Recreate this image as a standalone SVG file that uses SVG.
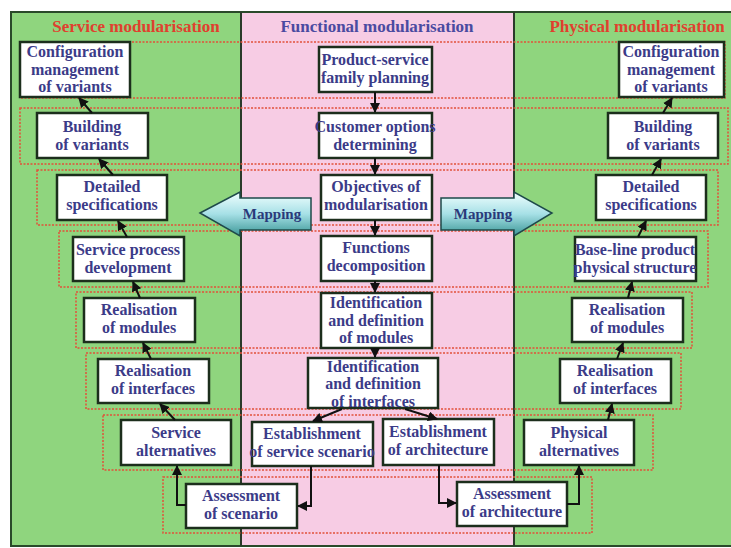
<svg xmlns="http://www.w3.org/2000/svg" width="731" height="548" viewBox="0 0 731 548">
<defs>
<linearGradient id="mapg" x1="0" y1="0" x2="0" y2="1">
<stop offset="0" stop-color="#f2ffff"/>
<stop offset="0.5" stop-color="#a6e0e6"/>
<stop offset="1" stop-color="#3a9696"/>
</linearGradient>
<marker id="ah" viewBox="0 0 10 10" refX="9" refY="5" markerWidth="10" markerHeight="10" markerUnits="userSpaceOnUse" orient="auto">
<path d="M0,0 L10,5 L0,10 z" fill="#111"/>
</marker>
<style>
.box{fill:#fff;stroke:#1c2e1c;stroke-width:2.5}
.t{font-family:"Liberation Serif","Times New Roman",serif;font-weight:bold;font-size:16px;fill:#3b3b88;text-anchor:middle}
.title{font-family:"Liberation Serif","Times New Roman",serif;font-weight:bold;font-size:17px;text-anchor:middle}
.row{fill:none;stroke:#e2503a;stroke-width:1.5;stroke-dasharray:2 1.5}
.con{fill:none;stroke:#111;stroke-width:2;marker-end:url(#ah)}
.map{fill:url(#mapg);stroke:#1e4a4a;stroke-width:1.5}
.mt{font-family:"Liberation Serif","Times New Roman",serif;font-weight:bold;font-size:15px;fill:#2a3a7a;text-anchor:middle}
</style>
</defs>
<rect x="0" y="0" width="731" height="548" fill="#fff"/>
<g id="panels">
<rect x="11" y="12" width="230" height="534" fill="#8fd57e"/>
<rect x="241" y="12" width="273" height="534" fill="#f7cce4"/>
<rect x="514" y="12" width="220" height="534" fill="#8fd57e"/>
<rect x="11" y="12" width="722" height="534" fill="none" stroke="#2a4a2a" stroke-width="2"/>
<line x1="241" y1="12" x2="241" y2="546" stroke="#2a3a2a" stroke-width="2"/>
<line x1="514" y1="12" x2="514" y2="546" stroke="#2a3a2a" stroke-width="2"/>
<text class="title" x="136" y="32" fill="#e0402e">Service modularisation</text>
<text class="title" x="377" y="32" fill="#4a4aa0">Functional modularisation</text>
<text class="title" x="637" y="32" fill="#e0402e">Physical modularisation</text>
</g>
<g id="rows">
<rect class="row" x="20" y="42" width="705" height="56"/>
<rect class="row" x="20" y="108" width="708" height="56"/>
<rect class="row" x="37" y="170" width="681" height="55"/>
<rect class="row" x="59" y="231" width="649" height="56"/>
<rect class="row" x="76" y="292" width="616" height="56"/>
<rect class="row" x="86" y="353" width="595" height="56"/>
<rect class="row" x="103" y="415" width="550" height="55"/>
<rect class="row" x="163" y="477" width="429" height="56"/>
</g>
<g id="L1"><rect class="box" x="20" y="42" width="110" height="55"/><text class="t" x="75" y="57">Configuration</text><text class="t" x="75" y="75">management</text><text class="t" x="75" y="92">of variants</text></g>
<g id="L2"><rect class="box" x="37" y="113" width="111" height="45"/><text class="t" x="92" y="132">Building</text><text class="t" x="92" y="150">of variants</text></g>
<g id="L3"><rect class="box" x="57" y="175" width="110" height="45"/><text class="t" x="112" y="192">Detailed</text><text class="t" x="112" y="210">specifications</text></g>
<g id="L4"><rect class="box" x="73" y="237" width="111" height="44"/><text class="t" x="128" y="255">Service process</text><text class="t" x="128" y="273">development</text></g>
<g id="L5"><rect class="box" x="84" y="298" width="111" height="44"/><text class="t" x="139" y="315">Realisation</text><text class="t" x="139" y="333">of modules</text></g>
<g id="L6"><rect class="box" x="98" y="359" width="111" height="44"/><text class="t" x="153" y="376">Realisation</text><text class="t" x="153" y="394">of interfaces</text></g>
<g id="L7"><rect class="box" x="121" y="420" width="110" height="45"/><text class="t" x="176" y="438">Service</text><text class="t" x="176" y="456">alternatives</text></g>
<g id="L8"><rect class="box" x="186" y="484" width="111" height="44"/><text class="t" x="241" y="501">Assessment</text><text class="t" x="241" y="519">of scenario</text></g>
<g id="M1"><rect class="box" x="319" y="47" width="113" height="45"/><text class="t" x="375" y="65">Product-service</text><text class="t" x="375" y="83">family planning</text></g>
<g id="M2"><rect class="box" x="319" y="113" width="113" height="45"/><text class="t" x="375" y="132">Customer options</text><text class="t" x="375" y="150">determining</text></g>
<g id="M3"><rect class="box" x="321" y="175" width="111" height="45"/><text class="t" x="376" y="192">Objectives of</text><text class="t" x="376" y="210">modularisation</text></g>
<g id="M4"><rect class="box" x="321" y="236" width="111" height="45"/><text class="t" x="376" y="253">Functions</text><text class="t" x="376" y="271">decomposition</text></g>
<g id="M5"><rect class="box" x="321" y="293" width="111" height="55"/><text class="t" x="376" y="308">Identification</text><text class="t" x="376" y="326">and definition</text><text class="t" x="376" y="343">of modules</text></g>
<g id="M6"><rect class="box" x="308" y="358" width="130" height="50"/><text class="t" x="373" y="372">Identification</text><text class="t" x="373" y="389">and definition</text><text class="t" x="373" y="407">of interfaces</text></g>
<g id="M7"><rect class="box" x="252" y="422" width="121" height="44"/><text class="t" x="312" y="439">Establishment</text><text class="t" x="312" y="457">of service scenario</text></g>
<g id="M8"><rect class="box" x="383" y="419" width="111" height="46"/><text class="t" x="438" y="437">Establishment</text><text class="t" x="438" y="455">of architecture</text></g>
<g id="M9"><rect class="box" x="457" y="482" width="110" height="44"/><text class="t" x="512" y="499">Assessment</text><text class="t" x="512" y="517">of architecture</text></g>
<g id="R1"><rect class="box" x="619" y="42" width="105" height="55"/><text class="t" x="671" y="57">Configuration</text><text class="t" x="671" y="75">management</text><text class="t" x="671" y="92">of variants</text></g>
<g id="R2"><rect class="box" x="608" y="113" width="110" height="45"/><text class="t" x="663" y="132">Building</text><text class="t" x="663" y="150">of variants</text></g>
<g id="R3"><rect class="box" x="596" y="175" width="110" height="45"/><text class="t" x="651" y="192">Detailed</text><text class="t" x="651" y="210">specifications</text></g>
<g id="R4"><rect class="box" x="575" y="237" width="121" height="44"/><text class="t" x="635" y="255">Base-line  product</text><text class="t" x="635" y="273">physical structure</text></g>
<g id="R5"><rect class="box" x="572" y="298" width="111" height="44"/><text class="t" x="627" y="315">Realisation</text><text class="t" x="627" y="333">of modules</text></g>
<g id="R6"><rect class="box" x="560" y="359" width="111" height="44"/><text class="t" x="615" y="376">Realisation</text><text class="t" x="615" y="394">of interfaces</text></g>
<g id="R7"><rect class="box" x="524" y="420" width="110" height="45"/><text class="t" x="579" y="438">Physical</text><text class="t" x="579" y="456">alternatives</text></g>
<g id="connectors">
<line class="con" x1="92" y1="113" x2="79" y2="98"/>
<line class="con" x1="113" y1="175" x2="99" y2="159"/>
<line class="con" x1="127" y1="237" x2="118" y2="221"/>
<line class="con" x1="140" y1="298" x2="133" y2="282"/>
<line class="con" x1="151" y1="359" x2="143" y2="343"/>
<line class="con" x1="175" y1="420" x2="160" y2="404"/>
<polyline class="con" points="186,505 177,505 177,466"/>
<line class="con" x1="375" y1="92" x2="375" y2="112"/>
<line class="con" x1="375" y1="158" x2="375" y2="174"/>
<line class="con" x1="375" y1="220" x2="375" y2="235"/>
<line class="con" x1="375" y1="281" x2="375" y2="292"/>
<line class="con" x1="375" y1="348" x2="375" y2="357"/>
<line class="con" x1="342" y1="409" x2="313" y2="421"/>
<line class="con" x1="405" y1="409" x2="437" y2="419"/>
<polyline class="con" points="311,466 311,506 298,506"/>
<polyline class="con" points="439,465 439,503 456,503"/>
<line class="con" x1="663" y1="113" x2="672" y2="98"/>
<line class="con" x1="652" y1="175" x2="661" y2="159"/>
<line class="con" x1="638" y1="237" x2="646" y2="221"/>
<line class="con" x1="628" y1="298" x2="632" y2="282"/>
<line class="con" x1="617" y1="359" x2="623" y2="343"/>
<line class="con" x1="608" y1="420" x2="612" y2="404"/>
<polyline class="con" points="567,504 579,504 579,466"/>
</g>
<g id="mapping-left">
<polygon class="map" points="200,213 240,192 240,198 311,198 311,230 240,230 240,236"/>
<text class="mt" x="272" y="219">Mapping</text>
</g>
<g id="mapping-right">
<polygon class="map" points="441,198 514,198 514,192 552,213 514,236 514,230 441,230"/>
<text class="mt" x="483" y="219">Mapping</text>
</g>
</svg>
